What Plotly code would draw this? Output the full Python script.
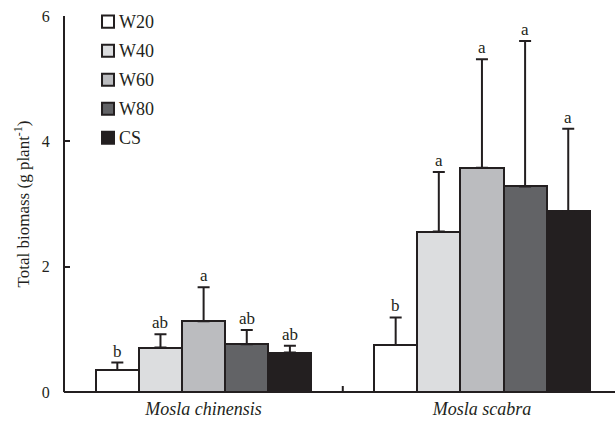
import plotly.graph_objects as go

# Total biomass per plant for two Mosla species under five water treatments
species = ["Mosla chinensis", "Mosla scabra"]
treatments = ["W20", "W40", "W60", "W80", "CS"]
means = {
    "W20": [0.35, 0.75],
    "W40": [0.71, 2.56],
    "W60": [1.13, 3.58],
    "W80": [0.76, 3.28],
    "CS": [0.63, 2.89],
}
errors = {
    "W20": [0.12, 0.44],
    "W40": [0.21, 0.95],
    "W60": [0.54, 1.73],
    "W80": [0.23, 2.32],
    "CS": [0.11, 1.31],
}
letters = {
    "W20": ["b", "b"],
    "W40": ["ab", "a"],
    "W60": ["a", "a"],
    "W80": ["ab", "a"],
    "CS": ["ab", "a"],
}
y_ticks = [0, 2, 4, 6]

colors = {
    "W20": "#ffffff",
    "W40": "#dcdddf",
    "W60": "#bbbcbf",
    "W80": "#626366",
    "CS": "#231f20",
}
ink = "#231f20"
font_family = "Liberation Serif"

bar_w = 0.155
group_pos = list(range(len(species)))

fig = go.Figure()
annotations = []
shapes = []
for i, t in enumerate(treatments):
    xs = [g + (i - 2) * bar_w for g in group_pos]
    fig.add_trace(go.Bar(
        x=xs,
        y=means[t],
        width=bar_w,
        name=t,
        showlegend=False,
        marker=dict(color=colors[t], line=dict(color=ink, width=2)),
        error_y=dict(
            type="data", symmetric=False,
            array=errors[t], arrayminus=[0] * len(species),
            thickness=2, width=6, color=ink,
        ),
    ))
    for x, m, e, lab in zip(xs, means[t], errors[t], letters[t]):
        annotations.append(dict(
            x=x, y=m + e, text=lab, showarrow=False,
            yanchor="bottom", yshift=0,
            font=dict(size=17, color=ink, family=font_family),
        ))

# key in the upper-left corner: a small swatch and a label per treatment
key_x0, key_size = 0.0673, 0.0218   # paper units (swatch is 12 px wide)
key_top, key_step = 0.985, 0.0772    # centre of first row, row spacing
key_half_h = 0.016
for i, t in enumerate(treatments):
    yc = key_top - i * key_step
    shapes.append(dict(
        type="rect", xref="paper", yref="paper",
        x0=key_x0, x1=key_x0 + key_size, y0=yc - key_half_h, y1=yc + key_half_h,
        fillcolor=colors[t], line=dict(color=ink, width=2),
    ))
    annotations.append(dict(
        xref="paper", yref="paper", x=key_x0 + key_size + 0.005, y=yc,
        xanchor="left", yanchor="middle", text=t, showarrow=False,
        font=dict(size=18, color=ink, family=font_family),
    ))

# baseline along the bottom of the plot and a small tick separating the species
shapes.append(dict(
    type="line", xref="paper", yref="paper", x0=-0.002, x1=1, y0=0, y1=0,
    line=dict(color=ink, width=2),
))
shapes.append(dict(
    type="line", xref="x", yref="paper", x0=0.5, x1=0.5, y0=0, y1=0.016,
    line=dict(color=ink, width=2),
))

fig.update_layout(
    width=615, height=423,
    margin=dict(l=65, r=0, t=16, b=31),
    paper_bgcolor="white", plot_bgcolor="white",
    font=dict(family=font_family, color=ink, size=16),
    barmode="overlay",
    bargap=0,
    showlegend=False,
    annotations=annotations,
    shapes=shapes,
)

fig.update_xaxes(
    range=[-0.498, 1.478],
    tickvals=group_pos,
    ticktext=[f"<i>{s}</i>" for s in species],
    ticks="",
    showline=False,
    showgrid=False, zeroline=False,
    automargin=False,
    ticklabelstandoff=4,
    tickfont=dict(size=18, family=font_family, color=ink),
)
fig.update_yaxes(
    range=[0, 6],
    tickvals=y_ticks,
    ticks="inside", ticklen=5, tickwidth=2, tickcolor=ink,
    showline=True, linewidth=2, linecolor=ink,
    showgrid=False, zeroline=False,
    automargin=False,
    ticklabelstandoff=10,
    tickfont=dict(size=16, family=font_family, color=ink),
    title=dict(text="Total biomass (g plant<sup>-1</sup>)",
               font=dict(size=17, family=font_family, color=ink),
               standoff=8),
)

fig.write_html("out.html")
